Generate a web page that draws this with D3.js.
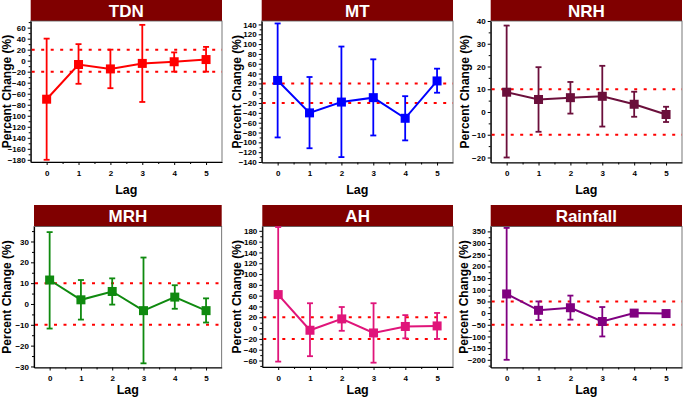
<!DOCTYPE html>
<html><head><meta charset="utf-8">
<script src="https://cdn.jsdelivr.net/npm/d3@7"></script>
<style>
body{margin:0;background:#fff;}
svg{display:block;font-family:Arial,"Liberation Sans",sans-serif;}
</style></head>
<body>
<svg id="c" width="684" height="400"></svg>
<script>
const lags = [0, 1, 2, 3, 4, 5];

const tdnMean = [-70, -7, -15, -5, -2, 2];
const tdnLow  = [-180, -42, -50, -75, -20, -20];
const tdnHigh = [40, 30, 20, 65, 15, 25];

const mtMean = [26, -40, -18, -9, -51, 25];
const mtLow  = [-90, -112, -130, -86, -96, 1];
const mtHigh = [142, 33, 95, 69, -6, 50];

const nrhMean = [8.7, 5.5, 6.3, 6.9, 3.4, -1.1];
const nrhLow  = [-20, -8.7, -0.7, -6.4, -2.1, -4.4];
const nrhHigh = [38, 19.7, 13.2, 20.3, 8.9, 2.3];

const mrhMean = [11.5, 2, 6, -3.2, 3.3, -3.2];
const mrhLow  = [-11.8, -7.5, -0.3, -28.5, -2.3, -8.9];
const mrhHigh = [34.5, 11.5, 12.3, 22.3, 9, 2.7];

const ahMean = [62, -4, 17, -9, 3, 4];
const ahLow  = [-62, -52, -5, -64, -19, -20];
const ahHigh = [187, 46, 39, 46, 24, 28];

const rainMean = [82, 12, 23, -36, 0, -2];
const rainLow  = [-200, -30, -28, -100, -3, -6];
const rainHigh = [365, 50, 75, 26, 3, 2];

const panels = [
  {title:"TDN", color:"#ff0000", mean:tdnMean, low:tdnLow, high:tdnHigh, dom:[-184,72], step:20, minor:10, ref:20,
   x0:30.7, x1:222, y0:21, y1:162, bar0:0, lx:7, lagY:194},
  {title:"MT", color:"#0000ff", mean:mtMean, low:mtLow, high:mtHigh, dom:[-141,147], step:20, minor:10, ref:20,
   x0:261.7, x1:453, y0:21, y1:162.5, bar0:0, lx:237, lagY:194},
  {title:"NRH", color:"#6b0f3b", mean:nrhMean, low:nrhLow, high:nrhHigh, dom:[-22.2,40], step:10, minor:5, ref:10,
   x0:490.7, x1:682, y0:21, y1:162.5, bar0:0, lx:465, lagY:194},
  {title:"MRH", color:"#0f8a0f", mean:mrhMean, low:mrhLow, high:mrhHigh, dom:[-30.5,37.2], step:10, minor:5, ref:10,
   x0:34, x1:221.7, y0:226.5, y1:367.5, bar0:205, lx:7, lagY:394},
  {title:"AH", color:"#e0157a", mean:ahMean, low:ahLow, high:ahHigh, dom:[-72,188], step:20, minor:10, ref:20,
   x0:262.3, x1:453, y0:226.5, y1:367, bar0:205, lx:237, lagY:394},
  {title:"Rainfall", color:"#800080", mean:rainMean, low:rainLow, high:rainHigh, dom:[-233,371], step:50, minor:25, ref:50,
   x0:490.7, x1:682, y0:226.5, y1:367.5, bar0:205, lx:464, lagY:394}
];

const svg = d3.select("#c");

panels.forEach(p => {
  const g = svg.append("g");
  const x = d3.scaleLinear().domain([-0.5, 5.5]).range([p.x0, p.x1]);
  const y = d3.scaleLinear().domain(p.dom).range([p.y1, p.y0]);

  // title bar
  g.append("rect").attr("x", p.x0).attr("y", p.bar0).attr("width", p.x1 - p.x0).attr("height", p.y0 - p.bar0)
    .attr("fill", "#800000");
  g.append("text").attr("x", (p.x0 + p.x1) / 2).attr("y", (p.bar0 + p.y0) / 2 + 6)
    .attr("text-anchor", "middle").attr("fill", "#fff").attr("font-weight", "bold").attr("font-size", 17)
    .text(p.title);

  // frame
  g.append("rect").attr("x", p.x0).attr("y", p.y0).attr("width", p.x1 - p.x0).attr("height", p.y1 - p.y0)
    .attr("fill", "none").attr("stroke", "#555").attr("stroke-width", 0.8);

  // y axis
  const t0 = Math.ceil(p.dom[0] / p.step) * p.step;
  const majors = d3.range(t0, p.dom[1] + 0.001, p.step);
  const m0 = Math.ceil(p.dom[0] / p.minor) * p.minor;
  const minors = d3.range(m0, p.dom[1] + 0.001, p.minor).filter(v => !majors.includes(v));
  const ya = g.append("g").attr("transform", `translate(${p.x0},0)`)
    .call(d3.axisLeft(y).tickValues(majors).tickSize(3).tickPadding(2).tickSizeOuter(0));
  ya.select(".domain").attr("stroke", "#000").attr("stroke-width", 1.2);
  ya.selectAll("text").attr("font-size", 8).attr("font-weight", "bold").attr("fill", "#000");
  ya.selectAll(".tick line").attr("stroke-width", 1);
  g.append("g").attr("transform", `translate(${p.x0},0)`)
    .call(d3.axisLeft(y).tickValues(minors).tickSize(2).tickFormat("").tickSizeOuter(0))
    .select(".domain").remove();

  // x axis
  const xa = g.append("g").attr("transform", `translate(0,${p.y1})`)
    .call(d3.axisBottom(x).tickValues(lags).tickSize(3).tickPadding(5).tickSizeOuter(0).tickFormat(d3.format("d")));
  xa.select(".domain").attr("stroke", "#000").attr("stroke-width", 1.2);
  xa.selectAll("text").attr("font-size", 8).attr("font-weight", "bold").attr("fill", "#000");
  g.append("g").attr("transform", `translate(0,${p.y1})`)
    .call(d3.axisBottom(x).tickValues(lags.map(d => d + 0.5).slice(0, 5)).tickSize(2).tickFormat("").tickSizeOuter(0))
    .select(".domain").remove();

  // axis titles
  g.append("text").attr("x", (p.x0 + p.x1) / 2).attr("y", p.lagY).attr("text-anchor", "middle")
    .attr("font-weight", "bold").attr("font-size", 12.5).text("Lag");
  g.append("text").attr("transform", `translate(${p.lx + 4},${(p.y0 + p.y1) / 2}) rotate(-90)`)
    .attr("text-anchor", "middle").attr("font-weight", "bold").attr("font-size", 12).text("Percent Change (%)");

  // reference lines
  [p.ref, -p.ref].forEach(r => {
    g.append("line").attr("x1", p.x0 + 1).attr("x2", p.x1).attr("y1", y(r)).attr("y2", y(r))
      .attr("stroke", "#ff0000").attr("stroke-width", 2).attr("stroke-dasharray", "3,6.5");
  });

  // error bars
  lags.forEach((l, i) => {
    const cx = x(l);
    g.append("line").attr("x1", cx).attr("x2", cx).attr("y1", y(p.low[i])).attr("y2", y(p.high[i]))
      .attr("stroke", p.color).attr("stroke-width", 1.8);
    [p.low[i], p.high[i]].forEach(v => {
      g.append("line").attr("x1", cx - 3).attr("x2", cx + 3).attr("y1", y(v)).attr("y2", y(v))
        .attr("stroke", p.color).attr("stroke-width", 1.8);
    });
  });

  // line
  g.append("path").datum(lags).attr("fill", "none").attr("stroke", p.color).attr("stroke-width", 2)
    .attr("d", d3.line().x(l => x(l)).y((l, i) => y(p.mean[i])));

  // markers
  g.selectAll(".m").data(lags).enter().append("rect")
    .attr("x", l => x(l) - 4.5).attr("y", (l, i) => y(p.mean[i]) - 4.5)
    .attr("width", 9).attr("height", 9).attr("fill", p.color);
});
</script>
</body></html>
